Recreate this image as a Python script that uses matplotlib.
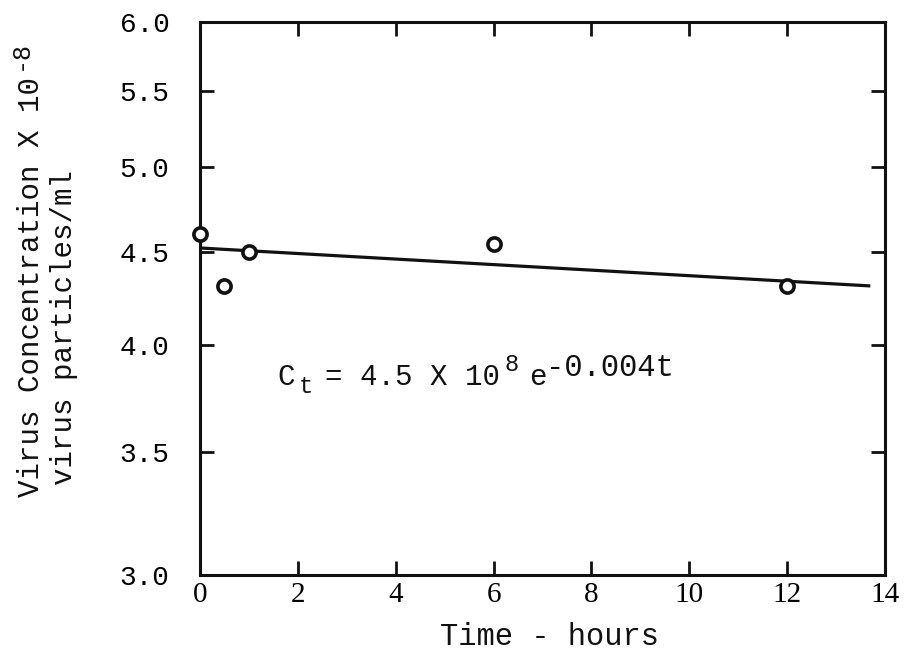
import matplotlib
matplotlib.use("Agg")
import matplotlib.pyplot as plt
from matplotlib.ticker import FixedLocator, FixedFormatter, NullLocator

# ---- data ----
time_h = [0.0, 0.5, 1.0, 6.0, 12.0]
conc = [4.60, 4.31, 4.50, 4.54, 4.31]
fit_t = [0.0, 13.7]
fit_c = [4.52, 4.31]
x_ticks = [0, 2, 4, 6, 8, 10, 12, 14]
y_ticks = [3.0, 3.5, 4.0, 4.5, 5.0, 5.5, 6.0]
y_tick_labels = ["3.0", "3.5", "4.0", "4.5", "5.0", "5.5", "6.0"]
ylabel_1 = "Virus Concentration X 10"
ylabel_1_exp = "-8"
ylabel_2 = "virus particles/ml"
xlabel = "Time - hours"
eq_parts = ["C", "t", "= 4.5 X 10", "8", "e", "-0.004t"]

MONO = "Liberation Mono"
SERIF = "Liberation Serif"
INK = "#111111"
W, H = 910, 654

fig = plt.figure(figsize=(W / 100, H / 100), dpi=100)
ax = fig.add_axes([200 / W, 1 - 575 / H, 685 / W, 553 / H])

ax.plot(fit_t, fit_c, color=INK, lw=2.3, solid_capstyle="butt", zorder=2)
ax.plot(time_h, conc, linestyle="none", marker="o", markersize=9.5,
        markerfacecolor="white", markeredgecolor=INK, markeredgewidth=2.6,
        zorder=3, clip_on=False)

ax.set_yscale("log")
ax.set_xlim(0, 14)
ax.set_ylim(3.0, 6.0)
ax.yaxis.set_major_locator(FixedLocator(y_ticks))
ax.yaxis.set_major_formatter(FixedFormatter(y_tick_labels))
ax.yaxis.set_minor_locator(NullLocator())
ax.set_xticks(x_ticks)
ax.set_xticklabels([str(v) for v in x_ticks])

for s in ax.spines.values():
    s.set_linewidth(2.2)
    s.set_color(INK)

ax.tick_params(axis="both", which="major", direction="in", length=10, width=2.0,
               color=INK, top=True, right=True)
ax.tick_params(axis="y", pad=22, labelsize=20)
ax.tick_params(axis="x", pad=5, labelsize=21)
for lab in ax.get_yticklabels():
    lab.set_family(MONO)
for lab in ax.get_xticklabels():
    lab.set_family(SERIF)


def ftext(px, py, s, **kw):
    """Place text at pixel position (px from left, py from top)."""
    kw.setdefault("family", MONO)
    kw.setdefault("color", INK)
    return fig.text(px / W, 1 - py / H, s, **kw)


# equation (typewriter style, pieces placed like the original typing)
ftext(277, 385, eq_parts[0], fontsize=21, ha="left", va="baseline")
ftext(299, 393, eq_parts[1], fontsize=17, ha="left", va="baseline")
ftext(325, 385, eq_parts[2], fontsize=21, ha="left", va="baseline")
ftext(504, 371, eq_parts[3], fontsize=17, ha="left", va="baseline")
ftext(529, 385, eq_parts[4], fontsize=21, ha="left", va="baseline")
ftext(546, 376, eq_parts[5], fontsize=22, ha="left", va="baseline")

# y label (two lines, rotated)
ftext(31, 497, ylabel_1, rotation=90, ha="center", va="bottom", fontsize=21)
ftext(20, 70, ylabel_1_exp, rotation=90, ha="center", va="bottom", fontsize=18)
ftext(64, 485, ylabel_2, rotation=90, ha="center", va="bottom", fontsize=21)

# x label
ftext(549, 637, xlabel, ha="center", va="center", fontsize=22)

fig.savefig("out.png", dpi=100, facecolor="white")
